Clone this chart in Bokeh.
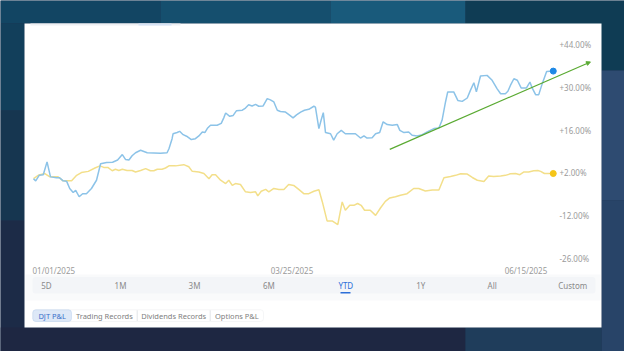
from bokeh.plotting import figure
from bokeh.models import Range1d, BoxAnnotation, Arrow, NormalHead
from bokeh.core.properties import value
from bokeh.embed import file_html
from bokeh.resources import INLINE

# ---------------- data (days since 2025-01-01, P&L in %) ----------------
blue_days = [0, 0.7, 1.8, 3.1, 4.3, 5.4, 7.3, 8.3, 9.4, 10.5, 11.5, 12.6, 13.4, 14.5, 15.6, 16.8,
             18.4, 20.0, 21.3, 23.2, 25.1, 26.7, 28.2, 29.2, 30.3, 31.3, 32.4, 34.0, 36.1, 38.2,
             40.3, 42.4, 43.0, 44.0, 44.3, 45.6, 46.4, 47.5, 48.6, 50.1, 51.4, 52.5, 53.6, 54.4,
             55.3, 56.2, 58.3, 59.6, 60.4, 61.0, 62.3, 63.4, 64.4, 66.3, 67.3, 68.3, 69.4, 70.5,
             71.5, 72.9, 74.2, 75.2, 76.3, 77.4, 78.4, 80.0, 81.4, 82.4, 83.5, 84.8, 86.0, 87.4,
             89.0, 89.5, 90.6, 91.3, 92.0, 92.7, 94.3, 95.3, 96.4, 97.7, 99.0, 102.2, 103.8,
             104.9, 105.9, 107.5, 108.6, 109.9, 111.0, 112.3, 113.9, 115.5, 116.3, 117.6, 119.1,
             120.2, 121.8, 123.4, 125.0, 127.1, 128.7, 129.7, 130.8, 131.5, 133.4, 134.7, 136.1,
             137.7, 138.7, 139.8, 140.6, 141.9, 144.0, 145.6, 147.2, 148.3, 149.8, 150.6, 151.4,
             152.5, 153.6, 154.8, 156.5, 157.6, 158.3, 159.4, 160.4, 161.5, 162.9, 165.0]
blue_pct = [0.1, -0.6, 1.2, 1.4, 5.6, 0.7, 0.4, 0.4, -0.6, -0.7, -3.1, -4.4, -3.7, -5.8, -4.8, -4.8,
            -3.1, -0.4, 5.0, 5.4, 5.5, 6.2, 8.0, 6.4, 6.2, 7.6, 8.6, 9.4, 8.6, 8.5,
            8.4, 8.6, 9.9, 13.2, 14.8, 15.2, 15.6, 14.5, 14.0, 12.9, 13.2, 14.1, 15.4, 15.2,
            16.7, 17.6, 17.6, 18.2, 20.0, 21.6, 20.5, 20.8, 22.3, 22.5, 23.2, 24.3, 23.9, 24.4,
            23.8, 23.9, 26.3, 25.9, 25.2, 22.5, 22.1, 21.9, 20.8, 20.0, 21.0, 21.9, 22.5, 22.8,
            23.8, 23.5, 16.5, 19.2, 21.7, 15.2, 14.8, 12.7, 14.8, 15.9, 14.8, 14.8, 13.4,
            14.1, 13.4, 13.5, 14.8, 15.2, 18.7, 17.8, 17.6, 17.8, 15.9, 15.2, 15.4,
            14.3, 14.1, 14.5, 15.4, 16.5, 16.7, 19.2, 25.2, 28.5, 28.5, 25.7, 25.4,
            26.5, 29.0, 31.5, 28.5, 33.7, 33.9, 32.3, 29.5, 27.9, 27.9, 28.7, 30.6,
            32.8, 32.3, 29.8, 29.8, 31.7, 29.8, 27.6, 27.6, 31.2, 35.2, 35.3]

yellow_days = [0, 1.5, 3.6, 5.2, 7.8, 9.4, 12.1, 13.7, 15.2, 17.4, 19.5, 21.1, 22.3, 23.6, 25.0,
               26.0, 27.1, 28.2, 29.7, 31.3, 32.4, 34.0, 35.6, 37.1, 38.2, 39.3, 40.8, 41.9,
               43.0, 45.1, 47.7, 49.3, 50.4, 52.5, 54.1, 55.7, 56.7, 57.8, 59.4, 61.0, 62.0,
               63.1, 64.1, 65.7, 67.3, 68.9, 70.5, 71.2, 72.3, 73.7, 74.7, 76.3, 77.9, 79.5,
               81.0, 82.6, 84.2, 85.8, 87.4, 89.0, 90.6, 91.7, 93.2, 94.8, 96.6, 98.0, 99.0,
               100.4, 101.7, 102.9, 104.0, 105.1, 106.9, 108.6, 110.2, 111.7, 113.1, 114.9,
               116.5, 118.6, 120.7, 122.3, 124.4, 126.6, 128.7, 130.3, 132.4, 134.0, 135.6,
               137.7, 139.3, 140.9, 143.0, 144.5, 146.1, 148.3, 149.8, 151.4, 153.0, 154.4,
               155.7, 157.2, 158.8, 160.1, 161.0, 162.2, 165.0]
yellow_pct = [0.1, 1.2, 1.8, 0.7, 0.7, -0.6, -0.6, 1.2, 2.1, 2.5, 3.6, 4.3, 3.8, 3.8, 2.7,
              3.2, 2.8, 3.2, 2.8, 2.8, 2.3, 2.8, 3.4, 2.7, 2.7, 3.2, 3.2, 3.6,
              4.3, 4.3, 4.7, 4.0, 2.5, 2.3, 1.8, 0.1, 1.4, 1.4, -0.4, -1.5, -0.4,
              -2.1, -1.5, -1.8, -4.2, -4.4, -4.2, -5.5, -4.0, -3.4, -4.2, -3.1, -3.4, -3.4,
              -1.8, -2.1, -3.4, -4.8, -4.8, -4.0, -3.5, -7.5, -13.7, -13.7, -14.9, -7.5, -10.2,
              -8.6, -8.6, -8.0, -8.6, -10.2, -10.2, -11.9, -9.4, -7.3, -6.2, -5.8,
              -5.3, -4.8, -3.1, -3.1, -3.9, -3.6, -3.6, 0.4, 0.8, 1.2, 1.7,
              1.6, 0.5, -0.4, -0.8, 1.0, 0.8, 1.0, 1.2, 1.7, 1.8, 1.4,
              2.3, 2.3, 2.7, 2.8, 2.5, 1.8, 1.8]

trend_days = [113.1, 176.8]
trend_pct = [9.7, 38.3]

y_ticks = [44, 30, 16, 2, -12, -26]
y_tick_labels = ["+44.00%", "+30.00%", "+16.00%", "+2.00%", "-12.00%", "-26.00%"]
date_days = [0, 83, 165]
date_labels = ["01/01/2025", "03/25/2025", "06/15/2025"]
range_buttons = ["5D", "1M", "3M", "6M", "YTD", "1Y", "All", "Custom"]
tab_labels = ["DJT P&L", "Trading Records", "Dividends Records", "Options P&L"]

# ---------------- layout (pixels) ----------------
W, H = 624, 351
FL, FT, FB = 33, 44, 258          # pixel of day 0, of +44 %, of -26 %
PX_PER_DAY = 3.15
Y_TOP, Y_BOT = 44, -26
FONT = "Noto Sans"


def dx(px):
    return (px - FL) / PX_PER_DAY


def dy(py):
    return Y_TOP - (py - FT) * (Y_TOP - Y_BOT) / (FB - FT)


p = figure(width=W, height=H, x_range=Range1d(dx(0), dx(W)), y_range=Range1d(dy(H), dy(0)),
           output_backend="svg", toolbar_location=None, title=None,
           x_axis_location=None, y_axis_location=None,
           min_border_left=0, min_border_right=0, min_border_top=0, min_border_bottom=0)
p.grid.visible = False
p.outline_line_color = None
p.background_fill_color = "#1c3350"
p.border_fill_color = "#1c3350"


def box(l, r, t, b, color, **kw):
    p.add_layout(BoxAnnotation(left=dx(l), right=dx(r), top=dy(t), bottom=dy(b),
                               fill_color=color, fill_alpha=1, line_color=kw.pop("line", None),
                               level="underlay", **kw))


# dark page background blocks
box(0, 160, 0, 23, "#124563")
box(160, 330, 0, 23, "#154f6e")
box(330, 465, 0, 23, "#195a7b")
box(465, 624, 0, 70, "#0f3c54")
box(0, 24, 23, 110, "#123f5b")
box(0, 24, 110, 220, "#163650")
box(0, 24, 220, 351, "#1c2b47")
box(601, 624, 70, 200, "#2e4b71")
box(601, 624, 200, 351, "#284468")
box(0, 465, 327, 351, "#1e2742")
box(465, 601, 327, 351, "#1f3d5b")
# white panel
box(24, 601, 23, 327, "#ffffff")
box(30, 180, 23, 25, "#eef0f3")
box(138, 171, 23, 25, "#d6e3f5")
# range selector bar
box(25, 600, 274, 300, "#f9fafb")
box(32, 595, 276.5, 293, "#f3f5f8", border_radius=3)
box(340, 350, 291.5, 293, "#2d6fd8")
# tabs
tab_edges = [32.3, 71, 136.7, 209.7, 263]
box(tab_edges[0], tab_edges[-1], 309.3, 321, "#ffffff", line="#dfe2e6", border_radius=3)
box(tab_edges[0], tab_edges[1], 309.3, 321, "#dde8f7", line="#9dbde8", border_radius=3)
for e in tab_edges[2:-1]:
    box(e - 0.5, e + 0.5, 309.8, 320.5, "#e2e5e9")

# y tick labels (right side)
p.text(x=[dx(559)] * len(y_ticks), y=y_ticks, text=y_tick_labels, text_align="left",
       text_baseline="middle", text_font=value(FONT), text_font_size="8px", text_color="#9b9b9b")

# series
p.line(yellow_days, yellow_pct, line_color="#f3df8a", line_width=1.5)
p.line(blue_days, blue_pct, line_color="#8cc3e8", line_width=1.5)
p.scatter([blue_days[-1]], [blue_pct[-1]], size=6, color="#1e88e5")
p.scatter([yellow_days[-1]], [yellow_pct[-1]], size=6, color="#f5c518")

# trend arrow
green = "#5aaa32"
p.add_layout(Arrow(x_start=trend_days[0], y_start=trend_pct[0], x_end=trend_days[1], y_end=trend_pct[1],
                   line_color=green, line_width=1.2,
                   end=NormalHead(size=4, fill_color=green, line_color=green, line_width=1)))

# date labels
p.text(x=date_days, y=[dy(269.5)] * 3, text=date_labels, text_align=["left", "center", "right"],
       x_offset=[-1, -3, -6], text_baseline="middle", text_font=value(FONT),
       text_font_size="8px", text_color="#9b9b9b")

# range buttons
btn_x = [46, 120, 194, 268.3, 345.3, 420.3, 491.7, 572.3]
p.text(x=[dx(b) for b in btn_x], y=[dy(284.7)] * len(btn_x), text=range_buttons,
       text_align="center", text_baseline="middle", text_font=value(FONT), text_font_size="8px",
       text_color=["#2d6fd8" if t == "YTD" else "#8a8a8a" for t in range_buttons])

# tab labels
tab_cx = [(tab_edges[i] + tab_edges[i + 1]) / 2 for i in range(len(tab_labels))]
p.text(x=[dx(c) for c in tab_cx], y=[dy(315.3)] * len(tab_labels), text=tab_labels,
       text_align="center", text_baseline="middle", text_font=value(FONT), text_font_size="7.5px",
       text_color=["#3a6fc9"] + ["#808080"] * (len(tab_labels) - 1))

open("out.html", "w").write(file_html(p, INLINE))
